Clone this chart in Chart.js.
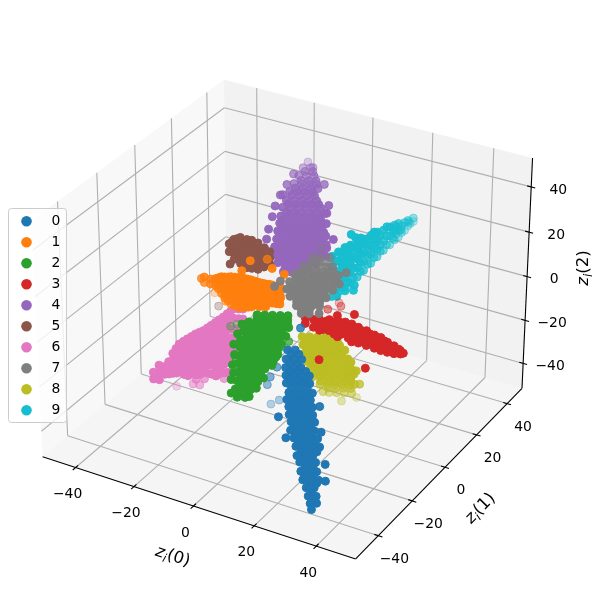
<!DOCTYPE html>
<html>
<head>
<meta charset="utf-8">
<script src="https://cdn.jsdelivr.net/npm/chart.js@4"></script>
<style>body{margin:0;background:#fff}</style>
</head>
<body>
<canvas id="latent" width="600" height="600"></canvas>
<script>
// latent points [z0, z1, z2], one list per class
const cluster0 = [
[6,-10.5,-10],[8,-9.5,-10],[7,-13,-12],[9,-12,-12],[11,-11,-12],[8,-15,-14],[10,-14,-14],[12,-13,-14],
[9,-16.5,-16],[11,-15.5,-16],[13,-14.5,-16],[15,-13.5,-16],[10,-18,-18],[12,-17,-18],[14,-16,-18],[16,-15,-18],
[12,-20,-20],[14,-19,-20],[16,-18,-20],[18,-17,-20],[12.5,-22,-21.5],[14.5,-21,-21.5],[16.5,-20,-21.5],[18.5,-19,-21.5],
[14,-23.5,-23],[16,-22.5,-23],[18,-21.5,-23],[20,-20.5,-23],[15,-25,-25],[17,-24,-25],[19,-23,-25],[21,-22,-25],
[16.5,-26.5,-26.5],[18.5,-25.5,-26.5],[20.5,-24.5,-26.5],[22.5,-23.5,-26.5],[17.5,-28.5,-28.5],[19.5,-27.5,-28.5],[21.5,-26.5,-28.5],[23.5,-25.5,-28.5],
[19.5,-30,-30],[21.5,-29,-30],[23.5,-28,-30],[25.5,-27,-30],[21,-31.5,-32],[23,-30.5,-32],[25,-29.5,-32],[27,-28.5,-32],
[22.5,-33.5,-34],[24.5,-32.5,-34],[26.5,-31.5,-34],[24,-34.5,-35.5],[26,-33.5,-35.5],[28,-32.5,-35.5],
[25.5,-36.5,-37.5],[27.5,-35.5,-37.5],[29.5,-34.5,-37.5],[27,-38,-39.5],[29,-37,-39.5],[31,-36,-39.5],
[29,-39.5,-41],[31,-38.5,-41],[30.5,-41,-43],[32.5,-40,-43],[32,-42.5,-44.5],[33.5,-41.5,-44.5],[33,-43.5,-46],
[7.5,-11,-11],[9.5,-10,-11],[8.5,-13.5,-13],[10.5,-12.5,-13],[9.5,-15,-15],[11.5,-14,-15],[13.5,-13,-15],
[10.5,-17,-17],[12.5,-16,-17],[14.5,-15,-17],[12,-18.5,-19],[14,-17.5,-19],[16,-16.5,-19],[13,-20.5,-21],[15,-19.5,-21],[17,-18.5,-21],
[14,-22,-22],[16,-21,-22],[18,-20,-22],[15.5,-24,-24],[17.5,-23,-24],[19.5,-22,-24],[17,-25,-26],[19,-24,-26],[21,-23,-26],
[18,-27,-27.5],[20,-26,-27.5],[22,-25,-27.5],[19.5,-29,-29],[21.5,-28,-29],[23.5,-27,-29],[21,-30,-31],[23,-29,-31],[25,-28,-31],
[23,-32,-33],[25,-31,-33],[27,-30,-33],[24,-33.5,-35],[26,-32.5,-35],[26,-35,-36.5],[28,-34,-36.5],[27,-37,-38.5],[29,-36,-38.5],
[29,-38,-40],[31,-37,-40],[31,-40,-42],[32,-41,-44],
[10,-22.5,-30],[14.5,-26,-35],[23.5,-21.5,-32],[31.5,-33,-42],
[-4.5,-2.2,-45],[-5.4,-2.7,-36],[-3,-1.2,-28],[-4.4,-2.7,-32],[-2.3,-1.1,-43],[17.5,-11.8,-30],[28.3,-27.5,-40],[3.1,2,-10]
];
const cluster1 = [
[-26.5,-3,5],[-26.5,-3,2.5],[-27.5,-3,4],
[-24.5,-2.8,4.7],[-24.5,-2.8,2.5],[-22,-2.5,6],[-22,-2.5,3.3],[-22,-2.5,1.1],
[-20,-2.3,7],[-20,-2.3,4.3],[-20,-2.3,1.6],[-20,-2.3,-1.1],[-20,-2.3,-2.4],
[-18,-2,7.7],[-18,-2,5],[-18,-2,2.3],[-18,-2,-0.3],[-18,-2,-3],[-18,-2,-4.8],
[-15.5,-1.8,8.1],[-15.5,-1.8,5.4],[-15.5,-1.8,2.7],[-15.5,-1.8,0.1],[-15.5,-1.8,-2.6],[-15.5,-1.8,-5.3],
[-13.5,-1.5,8.2],[-13.5,-1.5,5.5],[-13.5,-1.5,2.9],[-13.5,-1.5,0.2],[-13.5,-1.5,-2.5],[-13.5,-1.5,-4.7],
[-11.5,-1.3,8.2],[-11.5,-1.3,5.5],[-11.5,-1.3,2.8],[-11.5,-1.3,0.1],[-11.5,-1.3,-2.5],[-11.5,-1.3,-3.9],
[-9,-1,7.8],[-9,-1,5.1],[-9,-1,2.4],[-9,-1,-0.3],[-9,-1,-2.9],
[-7,-0.8,7.8],[-7,-0.8,5.2],[-7,-0.8,2.5],[-7,-0.8,-0.2],[-7,-0.8,-2.4],
[-5,-0.5,7.9],[-5,-0.5,5.2],[-5,-0.5,2.5],[-5,-0.5,-0.2],[-2.5,-0.3,7.8],[-2.5,-0.3,5.2],[-2.5,-0.3,2.5],[-2.5,-0.3,0.2],
[-23,-2.6,5.3],[-23,-2.6,2.3],[-21,-2.4,6.8],[-21,-2.4,4],[-21,-2.4,1.6],[-21,-2.4,-0.7],
[-19,-2.1,7.2],[-19,-2.1,4.5],[-19,-2.1,1.8],[-19,-2.1,-0.8],[-19,-2.1,-3.5],
[-16.7,-1.9,7.9],[-16.7,-1.9,5.2],[-16.7,-1.9,2.5],[-16.7,-1.9,-0.1],[-16.7,-1.9,-2.8],[-16.7,-1.9,-5],
[-14.5,-1.6,8.1],[-14.5,-1.6,5.5],[-14.5,-1.6,2.8],[-14.5,-1.6,0.1],[-14.5,-1.6,-2.7],[-14.5,-1.6,-5],
[-12.5,-1.4,8.2],[-12.5,-1.4,5.5],[-12.5,-1.4,2.9],[-12.5,-1.4,0.2],[-12.5,-1.4,-2.5],[-12.5,-1.4,-4.3],
[-10.2,-1.1,8],[-10.2,-1.1,5.3],[-10.2,-1.1,2.6],[-10.2,-1.1,-0.1],[-10.2,-1.1,-2.7],
[-8,-0.9,7.8],[-8,-0.9,5.1],[-8,-0.9,2.5],[-8,-0.9,-0.2],[-8,-0.9,-2.5],
[-6,-0.6,7.9],[-6,-0.6,5.2],[-6,-0.6,2.5],[-6,-0.6,-0.2],[-3.7,-0.4,7.8],[-3.7,-0.4,5.2],[-3.7,-0.4,2.5],[-3.7,-0.4,0],
[-24.5,-0.5,-3],[-20.5,-1,-5],[-12.5,9.5,10],[-8.5,5.5,10],[-15,4,12],[-5,6.5,8],[-3,1,2],[-15.5,0,10]
];
const cluster2 = [
[-6.5,-6.5,-2],[-4.5,-5.5,-2],[-2.5,-4.5,-2],[-0.5,-3.5,-2],[1.5,-2.5,-2],
[-7.5,-9.5,-3.5],[-5.5,-8.5,-3.5],[-3.5,-7.5,-3.5],[-1.5,-6.5,-3.5],[0.5,-5.5,-3.5],[2.5,-4.5,-3.5],
[-7.5,-12.5,-5.5],[-5.5,-11.5,-5.5],[-3.5,-10.5,-5.5],[-1.5,-9.5,-5.5],[0.5,-8.5,-5.5],[2.5,-7.5,-5.5],
[-7,-15,-7.5],[-5,-14,-7.5],[-3,-13,-7.5],[-1,-12,-7.5],[1,-11,-7.5],[3,-10,-7.5],
[-6,-17,-9],[-4,-16,-9],[-2,-15,-9],[0,-14,-9],[2,-13,-9],[4,-12,-9],
[-5,-19,-11],[-3,-18,-11],[-1,-17,-11],[1,-16,-11],[3,-15,-11],[4.5,-14.5,-11],
[-4,-21.5,-12.5],[-2,-20.5,-12.5],[0,-19.5,-12.5],[2,-18.5,-12.5],[4,-17.5,-12.5],
[-3,-23.5,-14.5],[-1,-22.5,-14.5],[1,-21.5,-14.5],[3,-20.5,-14.5],
[-2,-25.5,-16.5],[0,-24.5,-16.5],[2,-23.5,-16.5],[3.5,-23,-16.5],
[-1,-28,-18],[1,-27,-18],[3,-26,-18],[0.5,-29.5,-20],[2.5,-28.5,-20],[-1.5,-29.5,-19],
[-6,-7.5,-3],[-4,-6.5,-3],[-2,-5.5,-3],[0,-4.5,-3],[2,-3.5,-3],
[-6.5,-10.5,-4.5],[-4.5,-9.5,-4.5],[-2.5,-8.5,-4.5],[-0.5,-7.5,-4.5],[1.5,-6.5,-4.5],[3.5,-5.5,-4.5],
[-6,-13,-6.5],[-4,-12,-6.5],[-2,-11,-6.5],[0,-10,-6.5],[2,-9,-6.5],[4,-8,-6.5],
[-5.5,-15.5,-8],[-3.5,-14.5,-8],[-1.5,-13.5,-8],[0.5,-12.5,-8],[2.5,-11.5,-8],
[-4.5,-17.5,-10],[-2.5,-16.5,-10],[-0.5,-15.5,-10],[1.5,-14.5,-10],[3.5,-13.5,-10],
[-3.5,-20,-12],[-1.5,-19,-12],[0.5,-18,-12],[2.5,-17,-12],[4.5,-16,-12],
[-2.5,-22,-13.5],[-0.5,-21,-13.5],[1.5,-20,-13.5],[3.5,-19,-13.5],
[-1.5,-24,-15.5],[0.5,-23,-15.5],[2.5,-22,-15.5],[-0.5,-26,-17],[1.5,-25,-17],[3,-24.5,-17],[0.5,-28,-19],[2.5,-27,-19],
[-8,-17.2,-8.4],[-5.3,-22.4,-12.9],[-3.4,-26.3,-16],[-8.9,-11,-4],[-8.5,-14.2,-6],[-6.3,-19.6,-10.7],[-3.9,-24.2,-14.6],
[4,-10.4,-8.4],[4.5,-13.4,-10.7],[4.6,-17,-13],[4.3,-21.2,-15.8],[4,-24.7,-18],[3.4,-27.7,-19.8],
[-25,9,-25],[-24,11,-25],[-17.5,-0.5,-30],[-5.5,10,-25]
];
const cluster3 = [
[5.5,0.6,-3.5],[5.5,0.6,-6],[8,1,-3.5],[8,1,-7],[10,1,-2.7],[10,1,-5.4],[10,1,-7.6],[12,1.4,-3],[12,1.4,-6.5],
[14.5,1.7,-2.7],[14.5,1.7,-5.5],[14.5,1.7,-8],[16.5,2,-2.3],[16.5,2,-5],[16.5,2,-7.6],
[19,2,-2.8],[19,2,-5.5],[19,2,-8.2],[21,2.5,-3],[21,2.5,-5.7],[21,2.5,-8.4],
[23.5,2.7,-3.8],[23.5,2.7,-6.3],[23.5,2.7,-8.8],[25.5,3,-4.5],[25.5,3,-7],[25.5,3,-9],
[28,3.2,-5.3],[28,3.2,-7.5],[28,3.2,-9.3],[30,3.5,-6.2],[30,3.5,-8],[30,3.5,-9.8],
[32,3.7,-7.8],[32,3.7,-10],[34.5,4,-8.5],[34.5,4,-10.2],[36,4,-9.7],
[9,1,-4],[9,1,-6.5],[11,1.2,-4],[11,1.2,-7],[13,1.5,-2],[13,1.5,-4.5],[13,1.5,-7],
[15.5,1.9,-1.5],[15.5,1.9,-4],[15.5,1.9,-6.5],[15.5,1.9,-9],[18,2,-1.5],[18,2,-4],[18,2,-6.7],
[20,2.2,-1.7],[20,2.2,-4.2],[20,2.2,-7],[20,2.2,-9.7],[22,2.6,-2.7],[22,2.6,-4.5],[22,2.6,-7],[22,2.6,-9.7],
[24.5,2.9,-3.4],[24.5,2.9,-5.7],[24.5,2.9,-8],[24.5,2.9,-10],[27,3.1,-4.5],[27,3.1,-6.3],[27,3.1,-8.4],[27,3.1,-10.4],
[29,3.3,-5],[29,3.3,-7],[29,3.3,-9],[29,3.3,-10.8],[31,3.6,-6.5],[31,3.6,-9],[31,3.6,-11],[33,3.9,-7.5],[33,3.9,-9.5],[33,3.9,-11],[35,4.1,-9],[35,4.1,-10.5],
[10.5,0,-20],[24.5,2.5,-20],[2.5,26,-15],[4,24.5,-15],[1.5,21,-15],[16,11,-5],[12,8,-5]
];
const cluster4 = [
[-12,29.5,38.5],[-10,30.5,38.5],[-12,27,36.5],[-10,28,36.5],[-8,29,36.5],
[-12.5,25,34],[-10.5,26,34],[-8.5,27,34],[-6.5,28,34],[-12.5,22.5,32],[-10.5,23.5,32],[-8.5,24.5,32],[-6.5,25.5,32],
[-12.5,20.5,29.5],[-10.5,21.5,29.5],[-8.5,22.5,29.5],[-6.5,23.5,29.5],[-4.5,24.5,29.5],
[-12.5,18.5,27.5],[-10.5,19.5,27.5],[-8.5,20.5,27.5],[-6.5,21.5,27.5],[-4.5,22.5,27.5],[-2.5,23.5,27.5],
[-12,16.5,25],[-10,17.5,25],[-8,18.5,25],[-6,19.5,25],[-4,20.5,25],[-2,21.5,25],
[-11.5,15,23],[-9.5,16,23],[-7.5,17,23],[-5.5,18,23],[-3.5,19,23],[-1.5,20,23],
[-11,13,21],[-9,14,21],[-7,15,21],[-5,16,21],[-3,17,21],[-1,18,21],[1,19,21],
[-10.5,11.5,18.5],[-8.5,12.5,18.5],[-6.5,13.5,18.5],[-4.5,14.5,18.5],[-2.5,15.5,18.5],[-0.5,16.5,18.5],[1.5,17.5,18.5],
[-10,9.5,16.5],[-8,10.5,16.5],[-6,11.5,16.5],[-4,12.5,16.5],[-2,13.5,16.5],[0,14.5,16.5],[2,15.5,16.5],[3.5,16.5,16.5],
[-9.5,8,14],[-7.5,9,14],[-5.5,10,14],[-3.5,11,14],[-1.5,12,14],[0.5,13,14],[2.5,14,14],[4,15,14],
[-7.5,7,12],[-5.5,8,12],[-3.5,9,12],[-1.5,10,12],[0.5,11,12],[2.5,12,12],[-5,6,9.5],[-3,7,9.5],[-1,8,9.5],
[-11,29,37.5],[-9,30,37.5],[-11,26.5,35],[-9,27.5,35],[-7,28.5,35],[-11.5,24,33],[-9.5,25,33],[-7.5,26,33],[-5.5,27,33],
[-11.5,22,31],[-9.5,23,31],[-7.5,24,31],[-5.5,25,31],[-11.5,20,28.5],[-9.5,21,28.5],[-7.5,22,28.5],[-5.5,23,28.5],[-3.5,24,28.5],
[-11,18,26],[-9,19,26],[-7,20,26],[-5,21,26],[-3,22,26],[-1,23,26],[-11,16,24],[-9,17,24],[-7,18,24],[-5,19,24],[-3,20,24],[-1,21,24],
[-10,14.5,22],[-8,15.5,22],[-6,16.5,22],[-4,17.5,22],[-2,18.5,22],[0,19.5,22],
[-10,12.5,20],[-8,13.5,20],[-6,14.5,20],[-4,15.5,20],[-2,16.5,20],[0,17.5,20],[2,18.5,20],
[-9,11,17.5],[-7,12,17.5],[-5,13,17.5],[-3,14,17.5],[-1,15,17.5],[1,16,17.5],[3,17,17.5],
[-9,9,15],[-7,10,15],[-5,11,15],[-3,12,15],[-1,13,15],[1,14,15],[3,15,15],
[-7.5,8,13],[-5.5,9,13],[-3.5,10,13],[-1.5,11,13],[0.5,12,13],[2.5,13,13],[-5,7,11],[-3,8,11],[-1,9,11],[1,10,11],
[-12.5,8,16],[-13,10,18.5],[-13.5,12,21.5],[-14,15,25],[-14.5,17.5,28],[-14.5,20.5,31],[-14,23.5,34],[-13.5,26.5,37],[-11.5,6,13.5],
[-4.5,29,34],[-1,25.5,28],[0.5,21.5,23],[-0.5,23.5,26],[-14,21,31],[4,19.5,18.5],[-11.5,31.5,40],[-9.5,31,38.5]
];
const cluster5 = [
[-23,5.4,15.7],[-23,5.4,12.2],[-21,4.8,18.8],[-21,4.8,15.7],[-21,4.8,12.6],[-21,4.8,9.9],
[-18.5,4.3,20.9],[-18.5,4.3,17.8],[-18.5,4.3,14.6],[-18.5,4.3,11.5],[-18.5,4.3,9.3],
[-16,3.8,21.2],[-16,3.8,18],[-16,3.8,14.9],[-16,3.8,11.8],[-16,3.8,8.7],
[-14,3.2,22],[-14,3.2,18.9],[-14,3.2,15.8],[-14,3.2,12.6],[-14,3.2,9.5],
[-11.6,2.7,22],[-11.6,2.7,18.8],[-11.6,2.7,15.7],[-11.6,2.7,12.6],[-11.6,2.7,10.3],
[-9.3,2.2,21],[-9.3,2.2,17.9],[-9.3,2.2,14.7],[-9.3,2.2,12.5],[-7,1.6,20.5],[-7,1.6,17.8],[-7,1.6,15.1],
[-22,5,17],[-22,5,14],[-19.7,4.5,19.8],[-19.7,4.5,16.5],[-19.7,4.5,13],[-17.2,4,20],[-17.2,4,16.5],[-17.2,4,13],[-17.2,4,10],
[-15,3.5,20],[-15,3.5,17],[-15,3.5,13.5],[-12.8,3,20],[-12.8,3,17],[-12.8,3,14],[-10.5,2.5,19.5],[-10.5,2.5,16.5],[-10.5,2.5,13.5],
[-31,12,-20],[-26.5,14.5,-20],[-17,-4,15]
];
const cluster6 = [
[-23.5,-36,-14],[-23.5,-36,-17],[-22.5,-34.5,-11.5],[-22.5,-34.5,-15],[-22.5,-34.5,-18],
[-21.5,-33,-12.7],[-21.5,-33,-16.2],[-20,-31,-7.7],[-20,-31,-10.8],[-20,-31,-14],[-20,-31,-16.6],
[-19,-29,-4.5],[-19,-29,-7.6],[-19,-29,-10.7],[-19,-29,-13.8],[-19,-29,-17],
[-17.5,-27,-3],[-17.5,-27,-6],[-17.5,-27,-9.3],[-17.5,-27,-12.4],[-17.5,-27,-15.5],[-17.5,-27,-19.5],
[-16,-25,-1.6],[-16,-25,-4.7],[-16,-25,-7.8],[-16,-25,-11],[-16,-25,-14],[-16,-25,-17.2],[-16,-25,-20],
[-14.5,-23,-0.9],[-14.5,-23,-4],[-14.5,-23,-7.1],[-14.5,-23,-10.2],[-14.5,-23,-13.4],[-14.5,-23,-16.5],[-14.5,-23,-19.6],
[-13.5,-20.5,0.1],[-13.5,-20.5,-3.4],[-13.5,-20.5,-7],[-13.5,-20.5,-10.6],[-13.5,-20.5,-14.2],[-13.5,-20.5,-17.7],[-13.5,-20.5,-21.8],
[-12,-18.5,1.8],[-12,-18.5,-1.7],[-12,-18.5,-5.3],[-12,-18.5,-8.9],[-12,-18.5,-12.5],[-12,-18.5,-16],[-12,-18.5,-19.6],[-12,-18.5,-22.3],
[-10.5,-16.5,3.7],[-10.5,-16.5,0.2],[-10.5,-16.5,-3.4],[-10.5,-16.5,-7],[-10.5,-16.5,-10.6],[-10.5,-16.5,-14.2],[-10.5,-16.5,-17.7],[-10.5,-16.5,-22.6],
[-9.5,-14.5,5],[-9.5,-14.5,0.7],[-9.5,-14.5,-3.8],[-9.5,-14.5,-8.2],[-9.5,-14.5,-12.7],[-8,-12,3.7],[-8,-12,-0.7],[-8,-12,-5.2],[-8,-12,-9.7],
[-20.8,-32,-11],[-20.8,-32,-14],[-20.8,-32,-16.5],[-19.5,-30,-6],[-19.5,-30,-9.2],[-19.5,-30,-12.3],[-19.5,-30,-15.4],[-19.5,-30,-17],
[-18.2,-28,-3.7],[-18.2,-28,-7],[-18.2,-28,-10],[-18.2,-28,-13],[-18.2,-28,-16.5],[-18.2,-28,-18.5],
[-16.7,-26,-2.3],[-16.7,-26,-5.3],[-16.7,-26,-8.5],[-16.7,-26,-11.7],[-16.7,-26,-14.7],[-16.7,-26,-18.5],
[-15.2,-24,-1.2],[-15.2,-24,-4.3],[-15.2,-24,-7.4],[-15.2,-24,-10.6],[-15.2,-24,-13.7],[-15.2,-24,-16.8],[-15.2,-24,-20],
[-14,-21.7,-0.4],[-14,-21.7,-3.7],[-14,-21.7,-7],[-14,-21.7,-10.4],[-14,-21.7,-13.8],[-14,-21.7,-17],[-14,-21.7,-20.7],
[-12.7,-19.5,1],[-12.7,-19.5,-2.5],[-12.7,-19.5,-6.1],[-12.7,-19.5,-9.7],[-12.7,-19.5,-13.3],[-12.7,-19.5,-16.8],[-12.7,-19.5,-20.7],[-12.7,-19.5,-23],
[-11.2,-17.5,2.7],[-11.2,-17.5,-0.7],[-11.2,-17.5,-4.3],[-11.2,-17.5,-8],[-11.2,-17.5,-11.5],[-11.2,-17.5,-15],[-11.2,-17.5,-18.6],[-11.2,-17.5,-22.4],
[-10,-15.5,4.3],[-10,-15.5,0.5],[-10,-15.5,-3.6],[-10,-15.5,-7.6],[-10,-15.5,-11.6],[-10,-15.5,-15.6],[-10,-15.5,-19],
[-8.7,-13.2,4.3],[-8.7,-13.2,0],[-8.7,-13.2,-4.5],[-8.7,-13.2,-9],
[-34,-7.5,-45],[-28.5,-7,-42],[-26.5,-6.5,-42],[-24.5,-7,-38],[-26.5,-8.5,-38],[-19.5,-4,-38],[-17.5,-3.5,-36]
];
const cluster7 = [
[-1.5,17,10],[0.5,18,10],[-2.5,13.5,8],[-0.5,14.5,8],[1.5,15.5,8],[3.5,16.5,8],[5,17.5,8],
[-3.5,10,6.5],[-1.5,11,6.5],[0.5,12,6.5],[2.5,13,6.5],[4.5,14,6.5],[6.5,15,6.5],[8,15.5,6.5],
[-3.5,7,5],[-1.5,8,5],[0.5,9,5],[2.5,10,5],[4.5,11,5],[6.5,12,5],[8.5,13,5],
[-3,4.5,3.5],[-1,5.5,3.5],[1,6.5,3.5],[3,7.5,3.5],[5,8.5,3.5],[7,9.5,3.5],[9,10.5,3.5],
[-1,3,2],[1,4,2],[3,5,2],[5,6,2],[7,7,2],[8.5,7.5,2],
[2,1.5,0],[4,2.5,0],[6,3.5,0],[8,4.5,0],[4.5,0,-1.5],[6.5,1,-1.5],
[-1,15.5,9],[1,16.5,9],[3,17.5,9],[-2,12,7],[0,13,7],[2,14,7],[4,15,7],[6,16,7],
[-2.5,9,5.7],[-0.5,10,5.7],[1.5,11,5.7],[3.5,12,5.7],[5.5,13,5.7],[7.5,14,5.7],
[-2,6,4.2],[0,7,4.2],[2,8,4.2],[4,9,4.2],[6,10,4.2],[8,11,4.2],
[-1,4,2.7],[1,5,2.7],[3,6,2.7],[5,7,2.7],[7,8,2.7],[1.5,2.5,1],[3.5,3.5,1],[5.5,4.5,1],[7.5,5.5,1],[4,1,-0.7],[6,2,-0.7],
[9.5,17.5,7],[9.5,13.5,4.5],[3,19.5,10],
[-1,21,12],[-6.5,3.5,4],[-6,6,5],[9,2.5,-1.5]
];
const cluster8 = [
[2.5,4,-15.5],[4.5,5,-15.5],[6.5,6,-15.5],[8.5,7,-15.5],[10.5,8,-15.5],
[2.5,4.5,-19.5],[4.5,5.5,-19.5],[6.5,6.5,-19.5],[8.5,7.5,-19.5],[10.5,8.5,-19.5],[12,9.5,-19.5],
[2.5,5,-24],[4.5,6,-24],[6.5,7,-24],[8.5,8,-24],[10.5,9,-24],[12.5,10,-24],
[3,6,-28],[5,7,-28],[7,8,-28],[9,9,-28],[11,10,-28],[13,11,-28],[14.5,12,-28],
[3.5,7,-32],[5.5,8,-32],[7.5,9,-32],[9.5,10,-32],[11.5,11,-32],[13.5,12,-32],[15,12.5,-32],
[4,8,-36],[6,9,-36],[8,10,-36],[10,11,-36],[12,12,-36],[14,13,-36],
[5.5,9.5,-40],[7.5,10.5,-40],[9.5,11.5,-40],[11.5,12.5,-40],[13.5,13.5,-40],[14.5,14.5,-40],
[7.5,11.5,-44.5],[9.5,12.5,-44.5],[11.5,13.5,-44.5],[13.5,14.5,-44.5],
[3.5,5,-17.5],[5.5,6,-17.5],[7.5,7,-17.5],[9.5,8,-17.5],[11.5,9,-17.5],
[3.5,5,-21.5],[5.5,6,-21.5],[7.5,7,-21.5],[9.5,8,-21.5],[11.5,9,-21.5],[13.5,10,-21.5],
[4,6,-26],[6,7,-26],[8,8,-26],[10,9,-26],[12,10,-26],[14,11,-26],
[4,7,-30],[6,8,-30],[8,9,-30],[10,10,-30],[12,11,-30],[14,12,-30],
[5,8,-34],[7,9,-34],[9,10,-34],[11,11,-34],[13,12,-34],[15,13,-34],
[6,9,-38],[8,10,-38],[10,11,-38],[12,12,-38],[14,13,-38],[7.5,11,-42],[9.5,12,-42],[11.5,13,-42],[13.5,14,-42],
[14.5,15.7,-47],[11,12.8,-48],[6,10.5,-44],[15.7,15.3,-40],[15.3,13.9,-33]
];
const cluster9 = [
[7,13.5,-2],[7,13.5,2],[7,13.5,7],[7,13.5,11],[7,13.5,16],[8,15.5,-1],[8,15.5,3],[8,15.5,8],[8,15.5,13],[8,15.5,17],
[9,17.5,0],[9,17.5,4.5],[9,17.5,9],[9,17.5,13.5],[9,17.5,18],[10,19,1.5],[10,19,6],[10,19,10],[10,19,14],[10,19,18.5],
[11,21.5,3],[11,21.5,7],[11,21.5,11],[11,21.5,15],[11,21.5,19],[12,23.5,5],[12,23.5,9],[12,23.5,13],[12,23.5,17],[12,23.5,19],
[13,26,7],[13,26,11],[13,26,15],[13,26,19.5],[14,28,9],[14,28,12.5],[14,28,16],[14,28,20],
[15,30,11],[15,30,15],[15,30,20],[16,32,12.5],[16,32,16.5],[16,32,20.5],
[17.5,34.5,15],[17.5,34.5,18],[17.5,34.5,21],[18.5,36.5,17],[18.5,36.5,20.5],[20,39,20],[20,39,21.5],
[7.5,14.5,0],[7.5,14.5,4.5],[7.5,14.5,9],[7.5,14.5,13.5],[8.5,16.5,1],[8.5,16.5,6],[8.5,16.5,11],[8.5,16.5,15],
[9.5,18,2.5],[9.5,18,7],[9.5,18,11.5],[9.5,18,16],[10.5,20,3.5],[10.5,20,8],[10.5,20,12.5],[10.5,20,17],
[11.5,22.5,5],[11.5,22.5,9],[11.5,22.5,13],[11.5,22.5,17],[11.5,22.5,20],[12.5,25,7],[12.5,25,11],[12.5,25,15],[12.5,25,18.5],
[13.5,27,9],[13.5,27,13],[13.5,27,17],[13.5,27,20.5],[14.5,29,11],[14.5,29,14],[14.5,29,18],[15.5,31,13],[15.5,31,17],[15.5,31,21],
[17,33,14.5],[17,33,18.5],[17,33,21],[18,35.5,16.5],[18,35.5,19.5],[19,37.5,18.5],[19,37.5,21],
[16.5,33,15],[16.5,33,18],[18,35,18],[19,38,20],[19.5,38,19.5],[17,34,16.5],[17,34,19.5],
[8,23,20],[10,22,20],[12,17.5,0],[10,16,0],[12,18,2],[9.5,12,0]
];
const clusters = [cluster0, cluster1, cluster2, cluster3, cluster4, cluster5, cluster6, cluster7, cluster8, cluster9];
const classNames = ['0', '1', '2', '3', '4', '5', '6', '7', '8', '9'];
const classColors = ['#1f77b4', '#ff7f0e', '#2ca02c', '#d62728', '#9467bd', '#8c564b', '#e377c2', '#7f7f7f', '#bcbd22', '#17becf'];
// back to front, the way the collections overlap
const paintOrder = [9, 4, 5, 6, 8, 3, 1, 7, 0, 2];

const xTicks = [-40, -20, 0, 20, 40];
const yTicks = [-40, -20, 0, 20, 40];
const zTicks = [-40, -20, 0, 20, 40];
const xLim = [-51.5, 52.5];
const yLim = [-53, 50];
const zLim = [-51.7, 52.6];

// same camera as a default mplot3d axes: elev 30, azim -60, dist 10
function project(x, y, z) {
    const bx = ((x - xLim[0]) / (xLim[1] - xLim[0]) - 0.5) * 1.19;
    const by = ((y - yLim[0]) / (yLim[1] - yLim[0]) - 0.5) * 1.19;
    const bz = ((z - zLim[0]) / (zLim[1] - zLim[0]) - 0.5) * 0.893;
    const depth = 0.433 * bx - 0.75 * by + 0.5 * bz;
    const w = 10 - depth;
    return { x: (0.866 * bx + 0.5 * by) / w, y: (-0.25 * bx + 0.433 * by + 0.866 * bz) / w, depth: depth };
}

function rgba(hex, a) {
    const n = parseInt(hex.slice(1), 16);
    return 'rgba(' + (n >> 16) + ',' + ((n >> 8) & 255) + ',' + (n & 255) + ',' + a + ')';
}

const datasets = clusters.map(function (pts, i) {
    const placed = pts.map(function (p) { return project(p[0], p[1], p[2]); });
    placed.sort(function (a, b) { return a.depth - b.depth; });
    const near = placed[placed.length - 1].depth;
    const far = placed[0].depth;
    const shades = placed.map(function (p) {
        const t = (near - p.depth) / (near - far);
        return rgba(classColors[i], (1 - 0.7 * t * t * t * t).toFixed(3));
    });
    return {
        label: classNames[i],
        data: placed.map(function (p) { return { x: p.x, y: p.y }; }),
        pointBackgroundColor: shades,
        pointBorderColor: shades,
        pointBorderWidth: 1,
        pointRadius: 4,
        order: 10 - paintOrder.indexOf(i)
    };
});

const FONT = '"DejaVu Sans"';

const axes3d = {
    id: 'axes3d',
    beforeDatasetsDraw(chart) {
        const ctx = chart.ctx;
        const sx = chart.scales.x, sy = chart.scales.y;
        const px = function (x, y, z) {
            const p = project(x, y, z);
            return [sx.getPixelForValue(p.x), sy.getPixelForValue(p.y)];
        };
        const poly = function (corners, color) {
            ctx.beginPath();
            corners.forEach(function (c, i) {
                const q = px(c[0], c[1], c[2]);
                if (i) ctx.lineTo(q[0], q[1]); else ctx.moveTo(q[0], q[1]);
            });
            ctx.closePath();
            ctx.fillStyle = color;
            ctx.fill();
        };
        const seg = function (a, b, color, width) {
            const p = px(a[0], a[1], a[2]), q = px(b[0], b[1], b[2]);
            ctx.beginPath();
            ctx.moveTo(p[0], p[1]);
            ctx.lineTo(q[0], q[1]);
            ctx.strokeStyle = color;
            ctx.lineWidth = width;
            ctx.stroke();
        };
        const x0 = xLim[0], x1 = xLim[1], y0 = yLim[0], y1 = yLim[1], z0 = zLim[0], z1 = zLim[1];

        ctx.save();
        poly([[x0, y0, z0], [x0, y1, z0], [x0, y1, z1], [x0, y0, z1]], 'rgba(242,242,242,0.5)');
        poly([[x0, y1, z0], [x1, y1, z0], [x1, y1, z1], [x0, y1, z1]], 'rgba(230,230,230,0.5)');
        poly([[x0, y0, z0], [x1, y0, z0], [x1, y1, z0], [x0, y1, z0]], 'rgba(236,236,236,0.5)');

        const grid = '#b0b0b0';
        xTicks.forEach(function (t) {
            seg([t, y0, z0], [t, y1, z0], grid, 1.1);
            seg([t, y1, z0], [t, y1, z1], grid, 1.1);
        });
        yTicks.forEach(function (t) {
            seg([x1, t, z0], [x0, t, z0], grid, 1.1);
            seg([x0, t, z0], [x0, t, z1], grid, 1.1);
        });
        zTicks.forEach(function (t) {
            seg([x0, y0, t], [x0, y1, t], grid, 1.1);
            seg([x0, y1, t], [x1, y1, t], grid, 1.1);
        });

        seg([x0, y0, z0], [x1, y0, z0], '#000', 1.1);
        seg([x1, y0, z0], [x1, y1, z0], '#000', 1.1);
        seg([x1, y1, z0], [x1, y1, z1], '#000', 1.1);

        ctx.font = '13.9px ' + FONT;
        ctx.fillStyle = '#000';
        ctx.textAlign = 'center';
        ctx.textBaseline = 'middle';
        const tickText = function (t) { return t < 0 ? '\u2212' + Math.abs(t) : String(t); };
        xTicks.forEach(function (t) {
            seg([t, y0 - 1.5, z0], [t, y0 + 1.3, z0], '#000', 1.1);
            const q = px(t, y0, z0);
            ctx.fillText(tickText(t), q[0] - 8, q[1] + 27);
        });
        yTicks.forEach(function (t) {
            seg([x1 - 1.3, t, z0], [x1 + 1.3, t, z0], '#000', 1.1);
            const q = px(x1, t, z0);
            ctx.fillText(tickText(t), q[0] + 16, q[1] + 23.5);
        });
        zTicks.forEach(function (t) {
            seg([x1 - 1.3, y1, t], [x1 + 1.3, y1, t], '#000', 1.1);
            const q = px(x1, y1, t);
            ctx.fillText(tickText(t), q[0] + 27, q[1] + 3);
        });

        axisTitle(ctx, '0', 173, 556, 18.2);
        axisTitle(ctx, '1', 480, 508, -45.5);
        axisTitle(ctx, '2', 583, 268, -90);
        ctx.restore();
    },
    afterDatasetsDraw(chart) {
        const ctx = chart.ctx;
        ctx.save();
        ctx.beginPath();
        ctx.roundRect(8.5, 208.5, 58, 214, 3);
        ctx.fillStyle = 'rgba(255,255,255,0.8)';
        ctx.fill();
        ctx.strokeStyle = '#cccccc';
        ctx.lineWidth = 1;
        ctx.stroke();
        ctx.font = '13.9px ' + FONT;
        ctx.textAlign = 'left';
        ctx.textBaseline = 'alphabetic';
        classNames.forEach(function (name, i) {
            const y = 221.3 + 21 * i;
            ctx.beginPath();
            ctx.arc(26.5, y, 5.3, 0, Math.PI * 2);
            ctx.fillStyle = classColors[i];
            ctx.fill();
            ctx.fillStyle = '#000';
            ctx.fillText(name, 51.5, y + 4);
        });
        ctx.restore();
    }
};

// z_i(n) with the i set as a subscript
function axisTitle(ctx, n, cx, cy, deg) {
    const big = '16.6px ' + FONT;
    const bigItalic = 'italic ' + big;
    const small = 'italic 11.6px ' + FONT;
    const tail = '(' + n + ')';
    ctx.save();
    ctx.translate(cx, cy);
    ctx.rotate(deg * Math.PI / 180);
    ctx.textAlign = 'left';
    ctx.textBaseline = 'alphabetic';
    ctx.font = bigItalic;
    const wz = ctx.measureText('z').width;
    ctx.font = small;
    const wi = ctx.measureText('i').width;
    ctx.font = big;
    const wt = ctx.measureText(tail).width;
    let x = -(wz + wi + wt) / 2;
    ctx.fillStyle = '#000';
    ctx.font = bigItalic;
    ctx.fillText('z', x, 5);
    x += wz;
    ctx.font = small;
    ctx.fillText('i', x, 8.5);
    x += wi;
    ctx.font = big;
    ctx.fillText(tail, x, 5);
    ctx.restore();
}

new Chart(document.getElementById('latent'), {
    type: 'scatter',
    data: { datasets: datasets },
    plugins: [axes3d],
    options: {
        responsive: false,
        animation: false,
        events: [],
        layout: { padding: 0 },
        scales: {
            x: { display: false, type: 'linear', min: -286.5 / 3065, max: 313.5 / 3065 },
            y: { display: false, type: 'linear', min: -292 / 3065, max: 308 / 3065 }
        },
        plugins: { legend: { display: false }, tooltip: { enabled: false } }
    }
});
</script>
</body>
</html>
